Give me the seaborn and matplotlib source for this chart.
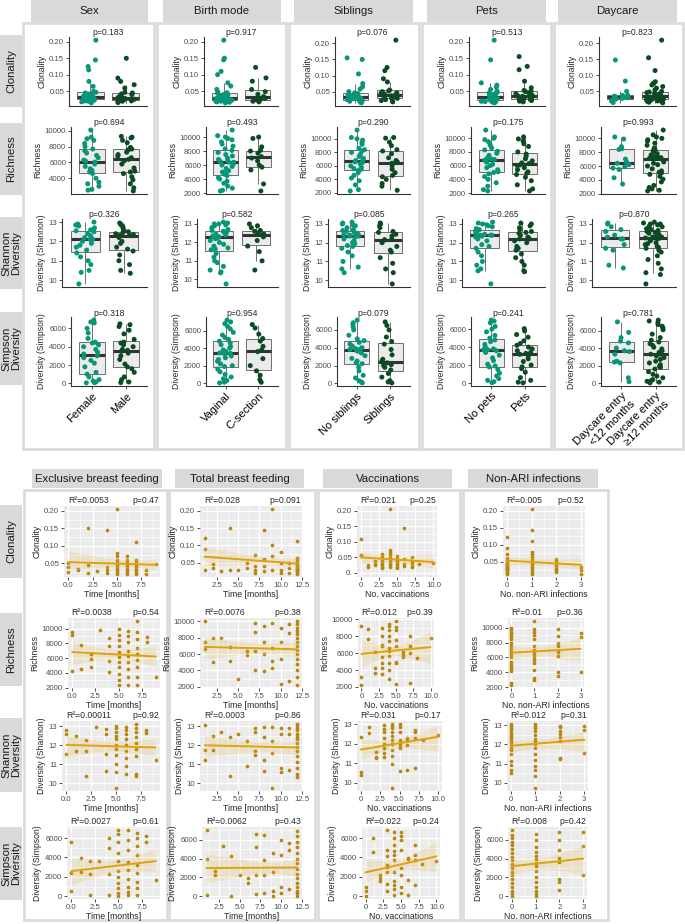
import numpy as np
import pandas as pd
import seaborn as sns
import matplotlib.pyplot as plt
from matplotlib.patches import Rectangle
from matplotlib.ticker import MultipleLocator, AutoMinorLocator, FuncFormatter

sns.set_style("white")
plt.rcParams["font.family"] = ["Liberation Sans", "DejaVu Sans"]

##=================== TOP: group comparisons ===================##
factors = ["Sex", "Birth mode", "Siblings", "Pets", "Daycare"]
group_labels = [["Female", "Male"], ["Vaginal", "C-section"], ["No siblings", "Siblings"],
                ["No pets", "Pets"], ["Daycare entry\n<12 months", "Daycare entry\n≥12 months"]]
row_strips = ["Clonality", "Richness", "Shannon\nDiversity", "Simpson\nDiversity"]
row_ylabels = ["Clonality", "Richness", "Diversity (Shannon)", "Diversity (Simpson)"]

# p-values per factor (rows: clonality, richness, shannon, simpson)
p_sex = ["0.183", "0.694", "0.326", "0.318"]
p_birth = ["0.917", "0.493", "0.582", "0.954"]
p_siblings = ["0.076", "0.290", "0.085", "0.079"]
p_pets = ["0.513", "0.175", "0.265", "0.241"]
p_daycare = ["0.823", "0.993", "0.870", "0.781"]

# clonality
clonality_sex = ([0.205, 0.145, 0.125, 0.115, 0.08, 0.065, 0.05, 0.047, 0.045, 0.042, 0.04, 0.037, 0.035,
                  0.033, 0.031, 0.03, 0.029, 0.028, 0.026, 0.025, 0.024, 0.023, 0.021, 0.02, 0.018, 0.015],
                 [0.15, 0.09, 0.08, 0.07, 0.06, 0.047, 0.045, 0.042, 0.04, 0.036, 0.033, 0.031, 0.03, 0.029,
                  0.028, 0.027, 0.026, 0.025, 0.024, 0.022, 0.021, 0.02, 0.018, 0.016])
clonality_birth = ([0.205, 0.15, 0.145, 0.11, 0.1, 0.075, 0.065, 0.055, 0.047, 0.045, 0.043, 0.04, 0.038, 0.036,
                    0.034, 0.032, 0.031, 0.03, 0.03, 0.029, 0.028, 0.027, 0.026, 0.025, 0.024, 0.023, 0.022,
                    0.022, 0.021, 0.02, 0.019, 0.018, 0.017, 0.016, 0.015, 0.014],
                   [0.122, 0.09, 0.08, 0.055, 0.048, 0.04, 0.033, 0.03, 0.028, 0.025, 0.023, 0.021, 0.019, 0.017])
clonality_siblings = ([0.155, 0.15, 0.105, 0.075, 0.065, 0.058, 0.05, 0.046, 0.044, 0.042, 0.04, 0.038, 0.036,
                       0.035, 0.034, 0.032, 0.031, 0.03, 0.029, 0.028, 0.026, 0.025, 0.023, 0.022, 0.022, 0.021,
                       0.02, 0.018, 0.017, 0.015],
                      [0.21, 0.125, 0.115, 0.09, 0.08, 0.055, 0.052, 0.05, 0.046, 0.045, 0.042, 0.04, 0.038,
                       0.037, 0.035, 0.033, 0.031, 0.029, 0.027, 0.025, 0.022, 0.018])
clonality_pets = ([0.205, 0.145, 0.075, 0.068, 0.062, 0.055, 0.05, 0.047, 0.045, 0.042, 0.04, 0.037, 0.034,
                   0.032, 0.031, 0.03, 0.029, 0.028, 0.027, 0.026, 0.025, 0.024, 0.022, 0.021, 0.02, 0.019,
                   0.018, 0.017, 0.016, 0.014],
                  [0.155, 0.125, 0.115, 0.08, 0.06, 0.052, 0.05, 0.048, 0.045, 0.042, 0.04, 0.037, 0.035, 0.034,
                   0.032, 0.03, 0.028, 0.026, 0.025, 0.024, 0.023, 0.021, 0.019, 0.017])
clonality_daycare = ([0.148, 0.082, 0.05, 0.038, 0.037, 0.035, 0.033, 0.031, 0.03, 0.028, 0.026, 0.025, 0.02, 0.015],
                     [0.21, 0.155, 0.115, 0.08, 0.075, 0.07, 0.065, 0.06, 0.055, 0.05, 0.048, 0.046, 0.044,
                      0.042, 0.04, 0.039, 0.037, 0.036, 0.035, 0.034, 0.033, 0.032, 0.031, 0.03, 0.029, 0.028,
                      0.027, 0.026, 0.025, 0.024, 0.023, 0.022, 0.021, 0.02, 0.019, 0.018, 0.016, 0.014])

# richness
richness_sex = ([10100, 9200, 9000, 8800, 8400, 8000, 7700, 7500, 7200, 6900, 6600, 6300, 6150, 6050, 5800,
                 5500, 5200, 5000, 4800, 4600, 4000, 3500, 3300, 3000, 2600, 2500],
                [9300, 9200, 9100, 8800, 8500, 7900, 7700, 7600, 7300, 7000, 6800, 6600, 6400, 6200, 5800,
                 5300, 4900, 4800, 4600, 4200, 3800, 3300, 2800, 2400])
richness_birth = ([11000, 10200, 10000, 9800, 9600, 9300, 9000, 8700, 8300, 8100, 7800, 7500, 7300, 7000,
                   6800, 6600, 6500, 6400, 6400, 6200, 6000, 5800, 5500, 5200, 5000, 4900, 4700, 4500, 4200,
                   4000, 3700, 3400, 3000, 2700, 2400, 2300],
                  [10000, 9800, 8600, 8100, 8000, 7700, 7200, 7000, 6600, 6000, 5700, 5300, 3300, 2300])
richness_siblings = ([11300, 10200, 10000, 9800, 9500, 9200, 8600, 8400, 8200, 8000, 7700, 7400, 7100, 6900,
                      6800, 6600, 6500, 6300, 6000, 5800, 5600, 5500, 5300, 5000, 4600, 4200, 3800, 3200,
                      2500, 2300],
                     [10200, 10100, 9500, 9000, 8400, 8200, 7800, 7200, 6800, 6600, 6400, 6000, 5500, 5000,
                      4600, 4400, 4000, 3400, 3000, 2400])
richness_pets = ([11200, 10200, 10000, 9800, 9500, 9000, 8600, 8300, 8100, 7800, 7500, 7300, 7100, 7000, 6900,
                  6800, 6500, 6200, 6000, 5700, 5400, 5100, 5000, 4800, 4400, 4000, 3500, 3000, 2500, 2300],
                 [10200, 9900, 9600, 9200, 8800, 8000, 7700, 7400, 7000, 6700, 6400, 6300, 6100, 6000, 5700,
                  5400, 5100, 4900, 4700, 4300, 3800, 3200, 2600, 2300])
richness_daycare = ([10200, 9900, 8800, 8500, 8400, 7000, 6600, 6400, 6200, 5900, 5700, 5500, 4300, 3400],
                    [11200, 10500, 10200, 10000, 9800, 9600, 9300, 9000, 8600, 8400, 8200, 8000, 7800, 7600,
                     7400, 7300, 7200, 7100, 7100, 7000, 6800, 6600, 6400, 6200, 6000, 5600, 5300, 5100,
                     5000, 4800, 4500, 4100, 3700, 3200, 2900, 2700, 2500, 2400])

# shannon diversity
shannon_sex = ([13.0, 12.9, 12.85, 12.8, 12.7, 12.6, 12.55, 12.5, 12.4, 12.3, 12.2, 12.15, 12.1, 12.1, 12.0,
                11.9, 11.8, 11.7, 11.55, 11.4, 11.2, 11.0, 10.8, 10.5, 10.4, 9.8],
               [12.95, 12.9, 12.85, 12.75, 12.65, 12.55, 12.5, 12.45, 12.4, 12.35, 12.3, 12.3, 12.3, 12.2,
                12.0, 11.9, 11.7, 11.6, 11.5, 11.3, 11.0, 10.8, 10.5, 10.35])
shannon_birth = ([13.1, 13.05, 13.0, 13.0, 12.95, 12.9, 12.8, 12.7, 12.65, 12.6, 12.55, 12.5, 12.45, 12.4,
                  12.35, 12.3, 12.3, 12.3, 12.25, 12.2, 12.1, 12.0, 11.9, 11.8, 11.7, 11.65, 11.6, 11.4, 11.2,
                  11.0, 10.9, 10.7, 10.5, 10.4, 10.35, 9.75],
                 [13.0, 12.9, 12.8, 12.65, 12.6, 12.5, 12.45, 12.4, 12.3, 12.1, 11.8, 11.5, 11.0, 10.5])
shannon_siblings = ([13.1, 13.05, 13.0, 12.95, 12.9, 12.8, 12.7, 12.65, 12.6, 12.55, 12.5, 12.45, 12.4, 12.4,
                     12.35, 12.35, 12.3, 12.2, 12.1, 12.0, 11.95, 11.85, 11.8, 11.7, 11.5, 11.3, 11.0, 10.7,
                     10.6, 10.4],
                    [13.05, 13.0, 12.9, 12.8, 12.6, 12.55, 12.45, 12.35, 12.2, 12.15, 12.15, 12.0, 11.8, 11.6,
                     11.5, 11.2, 10.9, 10.6, 10.4, 9.8])
shannon_pets = ([13.1, 13.05, 13.0, 12.95, 12.9, 12.85, 12.75, 12.7, 12.65, 12.6, 12.55, 12.5, 12.45, 12.4,
                 12.4, 12.4, 12.35, 12.3, 12.2, 12.1, 11.9, 11.8, 11.7, 11.5, 11.3, 11.0, 10.8, 10.6, 10.5, 9.8],
                [13.05, 13.0, 12.9, 12.8, 12.7, 12.6, 12.55, 12.5, 12.4, 12.3, 12.25, 12.2, 12.2, 12.1, 12.0,
                 11.8, 11.7, 11.6, 11.4, 11.2, 11.0, 10.8, 10.5, 10.45])
shannon_daycare = ([13.05, 13.0, 12.85, 12.7, 12.6, 12.4, 12.3, 12.2, 12.2, 11.9, 11.7, 11.6, 10.8, 10.65],
                   [13.1, 13.05, 13.0, 13.0, 12.95, 12.9, 12.85, 12.75, 12.7, 12.65, 12.6, 12.55, 12.5, 12.45,
                    12.4, 12.35, 12.3, 12.3, 12.25, 12.25, 12.2, 12.15, 12.1, 12.0, 11.95, 11.9, 11.8, 11.75,
                    11.7, 11.6, 11.5, 11.3, 11.1, 10.9, 10.6, 10.4, 10.3, 9.8])

# simpson diversity
simpson_sex = ([6900, 6700, 6600, 6000, 5500, 4900, 4500, 4400, 4200, 4000, 3700, 3400, 3200, 3000, 2800, 2500,
                2200, 1800, 1200, 1000, 700, 400, 250, 150, 80, 50],
               [6500, 6400, 6200, 5800, 5400, 4800, 4500, 4400, 4200, 4000, 3700, 3600, 3500, 3300, 3000, 2600,
                2100, 1800, 1600, 1200, 700, 400, 150, 80])
simpson_birth = ([7200, 7000, 6800, 6500, 6200, 5800, 5500, 5200, 5000, 4800, 4600, 4400, 4200, 4000, 3800,
                  3600, 3500, 3450, 3400, 3300, 3100, 2900, 2700, 2500, 2200, 2000, 1900, 1600, 1300, 1000, 700,
                  500, 300, 200, 100, 30],
                 [6700, 6300, 5600, 5100, 4800, 4200, 3800, 3600, 2800, 2000, 1400, 900, 400, 100])
simpson_siblings = ([7100, 6800, 6600, 6300, 6000, 5400, 5000, 4800, 4600, 4400, 4200, 4000, 3900, 3800, 3800,
                     3700, 3600, 3400, 3100, 2800, 2500, 2300, 2200, 1800, 1400, 900, 600, 300, 150, 50],
                    [6900, 6500, 6000, 5200, 4700, 4400, 3800, 3200, 2700, 2500, 2300, 2100, 2000, 1800, 1500,
                     1100, 700, 300, 150, 50])
simpson_pets = ([7000, 6900, 6700, 6300, 6000, 5700, 5300, 5000, 4800, 4600, 4300, 4000, 3800, 3700, 3700,
                 3600, 3400, 3100, 2800, 2500, 2100, 1900, 1800, 1500, 1100, 800, 500, 300, 150, 50],
                [6050, 5800, 5400, 5100, 4700, 4400, 4200, 4000, 3800, 3600, 3400, 3300, 3200, 3000, 2700, 2400,
                 2000, 1800, 1600, 1200, 600, 300, 100, 20])
simpson_daycare = ([7000, 5800, 5200, 4800, 4600, 4000, 3700, 3600, 3300, 2500, 2400, 2300, 600, 150],
                   [7200, 7100, 6900, 6700, 6500, 6300, 6100, 5600, 5200, 4900, 4700, 4500, 4300, 4100, 3900,
                    3700, 3500, 3400, 3300, 3300, 3100, 2900, 2700, 2500, 2300, 2100, 1900, 1800, 1600, 1300,
                    1000, 800, 600, 400, 300, 200, 100, 20])

##=================== BOTTOM: regressions ===================##
covariates = ["Exclusive breast feeding", "Total breast feeding", "Vaccinations", "Non-ARI infections"]
covariate_xlabels = ["Time [months]", "Time [months]", "No. vaccinations", "No. non-ARI infections"]

excl_bf_months = [0, 0, 0, 1, 1, 2, 2, 2, 3, 4, 4, 4, 4, 5, 5, 5, 5, 5, 5, 5, 5, 5, 5, 5,
                  6, 6, 6, 6, 6, 6, 6, 6, 6, 7, 7, 7, 7, 7, 7, 7, 7, 7, 8, 8, 9]
total_bf_months = [1, 1, 1, 2, 2, 3, 4, 4, 5, 6, 6, 7, 7, 7, 7, 8, 8, 8, 8, 9, 9, 9, 9, 10, 10, 10, 10,
                   11, 11, 11, 12, 12, 12, 12, 12, 12, 12, 12, 12, 12, 12, 12, 12, 12, 12]
n_vaccinations = [0, 0, 0, 1, 1, 2, 2, 2, 3, 3, 3, 3, 3, 3, 3, 3, 4, 4, 4, 4, 4, 4, 4, 4, 4, 4, 4,
                  5, 5, 5, 5, 5, 5, 5, 5, 6, 6, 6, 6, 7, 7, 7, 7, 8, 10]
n_infections = [0] * 19 + [1] * 15 + [2] * 8 + [3] * 3

clonality_excl = [0.05, 0.04, 0.025, 0.035, 0.03, 0.15, 0.045, 0.022, 0.028, 0.145, 0.04, 0.03, 0.022,
                  0.205, 0.08, 0.07, 0.06, 0.05, 0.045, 0.04, 0.035, 0.03, 0.025, 0.02,
                  0.07, 0.06, 0.05, 0.045, 0.04, 0.035, 0.03, 0.025, 0.02,
                  0.112, 0.06, 0.05, 0.045, 0.04, 0.035, 0.03, 0.025, 0.02, 0.03, 0.02, 0.048]
richness_excl = [9600, 9100, 4200, 7800, 4600, 6500, 5900, 4800, 9800, 8700, 7600, 5600, 4100,
                 10000, 9200, 8500, 7600, 6800, 6200, 5500, 4800, 3800, 3000, 2400,
                 9700, 9000, 8200, 7000, 6300, 5500, 4500, 3500, 2400,
                 11000, 9600, 8600, 7400, 6600, 5700, 4800, 3400, 2400, 8800, 8200, 3500]
shannon_excl = [12.8, 12.6, 11.55, 12.5, 11.7, 12.25, 11.7, 10.35, 12.95, 12.85, 12.6, 11.55, 10.65,
                13.0, 12.9, 12.7, 12.5, 12.3, 12.0, 11.8, 11.5, 11.0, 10.6, 9.75,
                12.95, 12.8, 12.6, 12.3, 12.0, 11.7, 11.3, 10.9, 10.5,
                13.1, 12.9, 12.7, 12.4, 12.1, 11.8, 11.4, 10.5, 10.35, 12.8, 12.65, 11.2]
simpson_excl = [5600, 2400, 500, 3900, 2500, 3600, 2300, 80, 3600, 6000, 5000, 2300, 100,
                6800, 6400, 5600, 4500, 3600, 2600, 2000, 1400, 800, 300, 50,
                6800, 5800, 4800, 3500, 2700, 1800, 1000, 400, 100,
                6500, 6000, 5200, 4200, 3200, 2400, 1500, 800, 100, 6200, 5600, 1700]

clonality_total = [0.123, 0.09, 0.03, 0.045, 0.035, 0.025, 0.15, 0.03, 0.03, 0.05, 0.035,
                   0.072, 0.04, 0.03, 0.02, 0.145, 0.06, 0.04, 0.025, 0.205, 0.1, 0.07, 0.03,
                   0.08, 0.05, 0.03, 0.02, 0.05, 0.035, 0.02,
                   0.112, 0.065, 0.06, 0.055, 0.05, 0.045, 0.04, 0.038, 0.035, 0.032, 0.03, 0.028, 0.025,
                   0.022, 0.018]
richness_total = [10000, 7500, 6600, 7900, 5000, 8000, 6800, 5100, 2900, 6400, 5900,
                  9800, 8700, 6400, 4100, 9400, 7500, 6000, 3900, 9800, 6700, 5200, 4300,
                  9200, 7500, 5400, 2400, 9700, 8600, 2700,
                  10000, 9600, 9200, 8800, 8400, 8000, 7500, 7000, 6500, 6000, 5400, 4800, 4000, 3200, 2250]
shannon_total = [13.05, 11.75, 11.2, 12.5, 11.75, 12.7, 12.4, 10.35, 12.6, 12.2, 10.9,
                 12.9, 12.7, 11.7, 11.5, 12.95, 12.45, 11.2, 10.65, 12.95, 12.2, 11.6, 9.75,
                 12.9, 12.6, 10.8, 10.6, 12.9, 12.6, 10.7,
                 13.1, 13.0, 12.9, 12.8, 12.6, 12.45, 12.3, 12.1, 11.9, 11.7, 11.4, 11.1, 10.8, 10.5, 10.3]
simpson_total = [7000, 3900, 100, 2700, 2200, 5300, 4300, 50, 2300, 1900, 1400,
                 6600, 5200, 2300, 200, 6500, 3800, 2200, 300, 4600, 2600, 600, 50,
                 6000, 4400, 1000, 300, 5600, 4900, 800,
                 6900, 6400, 5800, 5200, 4600, 4000, 3500, 2900, 2400, 1900, 1400, 1000, 600, 300, 50]

clonality_vacc = [0.11, 0.058, 0.055, 0.025, 0.018, 0.04, 0.03, 0.025,
                  0.062, 0.05, 0.04, 0.035, 0.03, 0.025, 0.02, 0.015,
                  0.205, 0.075, 0.068, 0.06, 0.05, 0.045, 0.04, 0.035, 0.03, 0.025, 0.018,
                  0.055, 0.045, 0.04, 0.035, 0.03, 0.025, 0.02, 0.015,
                  0.145, 0.045, 0.03, 0.022, 0.05, 0.035, 0.025, 0.02, 0.03, 0.033]
richness_vacc = [9200, 3200, 2250, 8900, 7700, 6200, 4300, 3600,
                 9000, 8100, 7000, 6800, 5600, 4800, 4200, 3500,
                 9500, 9200, 8700, 8100, 7400, 6600, 6300, 5700, 4800, 4000, 2900,
                 9800, 9100, 8700, 7600, 6900, 5000, 4800, 2300,
                 6200, 5900, 5700, 5500, 8000, 6800, 6000, 2500, 5400, 7800]
shannon_vacc = [12.35, 10.55, 10.4, 12.85, 12.55, 11.6, 11.3, 11.25,
                12.95, 12.75, 12.6, 12.3, 12.0, 11.8, 11.55, 11.3,
                13.0, 12.9, 12.8, 12.6, 12.4, 12.2, 12.0, 11.7, 11.4, 10.95, 9.75,
                13.0, 12.85, 12.6, 12.2, 12.0, 11.85, 11.8, 10.6,
                12.3, 12.2, 11.95, 10.65, 12.7, 12.6, 12.3, 10.75, 12.2, 12.45]
simpson_vacc = [1000, 500, 50, 6000, 4600, 2200, 1900, 1600,
                6800, 4800, 4100, 3200, 3000, 2500, 1300, 500,
                6600, 6000, 5300, 4700, 4200, 3700, 2500, 1600, 1200, 700, 100,
                6600, 6200, 5800, 4800, 2900, 2200, 1000, 300,
                3900, 3800, 1700, 80, 5300, 4300, 3700, 1200, 3300, 3600]

clonality_inf = [0.123, 0.09, 0.072, 0.06, 0.055, 0.05, 0.048, 0.045, 0.042, 0.04, 0.037, 0.035, 0.032,
                 0.03, 0.028, 0.025, 0.022, 0.018, 0.015,
                 0.205, 0.145, 0.112, 0.08, 0.072, 0.065, 0.058, 0.05, 0.045, 0.04, 0.035, 0.03, 0.025,
                 0.02, 0.015,
                 0.058, 0.052, 0.048, 0.042, 0.035, 0.03, 0.025, 0.02, 0.035, 0.025, 0.015]
richness_inf = [10000, 9800, 9500, 9200, 8900, 8500, 8000, 7600, 7200, 6800, 6500, 6000, 5400, 5000, 4700,
                4400, 4200, 2500, 2300,
                10900, 9800, 9500, 9000, 8500, 7500, 7000, 6700, 6300, 6000, 5700, 5300, 4300, 3200, 2900,
                9900, 8900, 8000, 7500, 6800, 6200, 4000, 3500, 9300, 8800, 4000]
shannon_inf = [13.05, 13.0, 12.95, 12.85, 12.75, 12.6, 12.5, 12.4, 12.3, 12.2, 12.05, 11.95, 11.8, 11.7,
               11.5, 11.15, 10.95, 10.65, 10.5,
               13.05, 12.95, 12.85, 12.7, 12.5, 12.3, 12.2, 12.0, 11.8, 11.5, 11.2, 10.9, 10.65, 10.35, 9.75,
               12.95, 12.9, 12.7, 12.55, 12.4, 12.2, 11.3, 11.25, 12.95, 12.75, 11.55]
simpson_inf = [7000, 6500, 6200, 5800, 5400, 5000, 4600, 4200, 3800, 3400, 3000, 2600, 2200, 1800, 1400,
               1000, 600, 300, 50,
               6600, 6000, 5200, 4700, 4300, 3900, 3500, 3200, 2700, 2000, 1500, 1000, 500, 200, 50,
               6800, 6000, 4900, 4100, 3600, 1800, 1500, 700, 6800, 5300, 2300]

r2_excl = ["0.0053", "0.0038", "0.00011", "0.0027"]
pr_excl = ["0.47", "0.54", "0.92", "0.61"]
r2_total = ["0.028", "0.0076", "0.0003", "0.0062"]
pr_total = ["0.091", "0.38", "0.86", "0.43"]
r2_vacc = ["0.021", "0.012", "0.031", "0.022"]
pr_vacc = ["0.25", "0.39", "0.17", "0.24"]
r2_inf = ["0.005", "0.01", "0.012", "0.008"]
pr_inf = ["0.52", "0.36", "0.31", "0.42"]

##=================== STYLE ===================##
col_a, col_b = "#079678", "#0B4A23"
pt_col, line_col = "#B8860B", "#DDA20E"
strip_col, frame_col = "#D9D9D9", "#DCDCDC"
tick_txt = "#4D4D4D"

W, H = 685, 924
fig = plt.figure(figsize=(W / 100, H / 100), dpi=100)


def rect_px(x0, y0, x1, y1, face, edge="none", lw=0, z=-3):
    fig.add_artist(Rectangle((x0 / W, 1 - y1 / H), (x1 - x0) / W, (y1 - y0) / H,
                             transform=fig.transFigure, facecolor=face, edgecolor=edge,
                             linewidth=lw, zorder=z))


def strip_px(x0, y0, x1, y1, label, vertical=False):
    rect_px(x0, y0, x1, y1, strip_col, z=-2)
    fig.text((x0 + x1) / 2 / W, 1 - (y0 + y1) / 2 / H, label, rotation=90 if vertical else 0,
             ha="center", va="center", fontsize=8.2, color="#1A1A1A", linespacing=1.0)


def axes_px(x0, y0, x1, y1):
    return fig.add_axes([x0 / W, 1 - y1 / H, (x1 - x0) / W, (y1 - y0) / H])


fmt2 = FuncFormatter(lambda v, p: f"{v:.2f}")
fmt0 = FuncFormatter(lambda v, p: f"{v:.0f}")
fmt1 = FuncFormatter(lambda v, p: f"{v:.1f}")
fmt_vx = FuncFormatter(lambda v, p: "0" if abs(v) < 1e-9 else f"{v:.1f}")
fmt_vy = FuncFormatter(lambda v, p: "0." if abs(v) < 1e-9 else f"{v:.2f}")
row_locs = [0.05, 2000, 1, 2000]
row_fmts = [fmt2, fmt0, fmt0, fmt0]

##=================== DRAW TOP BLOCK ===================##
top_values = [
    [clonality_sex, clonality_birth, clonality_siblings, clonality_pets, clonality_daycare],
    [richness_sex, richness_birth, richness_siblings, richness_pets, richness_daycare],
    [shannon_sex, shannon_birth, shannon_siblings, shannon_pets, shannon_daycare],
    [simpson_sex, simpson_birth, simpson_siblings, simpson_pets, simpson_daycare],
]
top_p = [p_sex, p_birth, p_siblings, p_pets, p_daycare]

top_panels = [(23, 154), (157, 286), (289, 419), (422, 551), (554, 683)]
top_strips = [(31, 148), (163, 281), (294, 413), (427, 546), (558, 677)]
top_left = [69, 204, 335, 469, 599]
top_right = [147, 278, 410, 545, 676]
top_shift = [0, 2, -7, 2]
top_rows = [(37, 106), (127, 194), (219, 287), (317, 386)]
top_rowstrips = [(35, 107), (123, 195), (217, 289), (312, 385)]

for ci in range(5):
    rect_px(top_panels[ci][0], 23, top_panels[ci][1], 449, "white", frame_col, 2)
    strip_px(top_strips[ci][0], 0, top_strips[ci][1], 22, factors[ci])
for ri in range(4):
    strip_px(0, top_rowstrips[ri][0], 22, top_rowstrips[ri][1], row_strips[ri], vertical=True)

for ci in range(5):
    labels = group_labels[ci]
    for ri in range(4):
        a, b = top_values[ri][ci]
        df = pd.DataFrame({"group": [labels[0]] * len(a) + [labels[1]] * len(b), "value": a + b})
        ax = axes_px(top_left[ci] + top_shift[ri], top_rows[ri][0], top_right[ci], top_rows[ri][1])
        sns.boxplot(data=df, x="group", y="value", order=labels, color="#EBEBEB", width=0.75,
                    showfliers=False, showcaps=False, linecolor="#6E6E6E", linewidth=0.7,
                    medianprops={"color": "#333333", "linewidth": 2.2}, ax=ax)
        sns.stripplot(data=df, x="group", y="value", order=labels, hue="group", hue_order=labels,
                      palette=[col_a, col_b], jitter=0.25, size=3.6, linewidth=0, legend=False,
                      ax=ax)
        ax.set_xlim(-0.6, 1.6)
        ax.yaxis.set_major_locator(MultipleLocator(row_locs[ri]))
        ax.yaxis.set_major_formatter(row_fmts[ri])
        ax.set_ylabel(row_ylabels[ri], fontsize=6.2, labelpad=2)
        ax.set_xlabel("")
        ax.set_title("p=" + top_p[ci][ri], fontsize=6.2, pad=1)
        for s in ["top", "right"]:
            ax.spines[s].set_visible(False)
        for s in ["left", "bottom"]:
            ax.spines[s].set_color("#333333")
            ax.spines[s].set_linewidth(0.8)
        ax.tick_params(axis="y", length=2.5, width=0.6, color="#333333", labelsize=5.6,
                       labelcolor=tick_txt, pad=1, left=True)
        if ri == 3:
            ax.tick_params(axis="x", length=2.5, width=0.6, color="#333333", pad=1, bottom=True)
            ax.set_xticks([0, 1])
            ax.set_xticklabels(labels, rotation=45, ha="right", rotation_mode="anchor",
                               fontsize=8, color="black")
        else:
            ax.tick_params(axis="x", bottom=False, labelbottom=False)
        ax.set_facecolor("white")

##=================== DRAW BOTTOM BLOCK ===================##
bottom_x = [excl_bf_months, total_bf_months, n_vaccinations, n_infections]
bottom_y = [
    [clonality_excl, clonality_total, clonality_vacc, clonality_inf],
    [richness_excl, richness_total, richness_vacc, richness_inf],
    [shannon_excl, shannon_total, shannon_vacc, shannon_inf],
    [simpson_excl, simpson_total, simpson_vacc, simpson_inf],
]
bottom_r2 = [r2_excl, r2_total, r2_vacc, r2_inf]
bottom_p = [pr_excl, pr_total, pr_vacc, pr_inf]
x_locs = [2.5, 2.5, 2.5, 1]
x_fmts = [fmt1, fmt1, fmt_vx, fmt0]

bot_panels = [(24, 167), (169, 315), (318, 460), (463, 608)]
bot_strips = [(32, 162), (175, 304), (323, 452), (468, 598)]
bot_rows = [(506, 577), (618, 688), (721, 791), (827, 899)]
bot_rowstrips = [(505, 578), (613, 686), (718, 792), (827, 900)]
bot_x = [
    [(64, 160), (68, 160), (62, 160), (67, 160)],
    [(200, 302), (200, 302), (200, 302), (202, 302)],
    [(357, 437), (358, 434), (357, 442), (362, 440)],
    [(503, 585), (508, 584), (507, 588), (508, 587)],
]

for ci in range(4):
    rect_px(bot_panels[ci][0], 490, bot_panels[ci][1], 920, "white", frame_col, 2)
    strip_px(bot_strips[ci][0], 469, bot_strips[ci][1], 488, covariates[ci])
for ri in range(4):
    strip_px(0, bot_rowstrips[ri][0], 22, bot_rowstrips[ri][1], row_strips[ri], vertical=True)

for ci in range(4):
    for ri in range(4):
        x0, x1 = bot_x[ci][ri]
        ax = axes_px(x0, bot_rows[ri][0], x1, bot_rows[ri][1])
        df = pd.DataFrame({"x": bottom_x[ci], "y": bottom_y[ri][ci]})
        sns.regplot(data=df, x="x", y="y", ax=ax, ci=95, seed=7, color=line_col,
                    scatter_kws={"color": pt_col, "s": 7, "linewidths": 0, "alpha": 1},
                    line_kws={"color": line_col, "lw": 1.4})
        ax.set_facecolor("#EBEBEB")
        for s in ax.spines.values():
            s.set_visible(False)
        ax.xaxis.set_major_locator(MultipleLocator(x_locs[ci]))
        ax.xaxis.set_major_formatter(x_fmts[ci])
        ax.yaxis.set_major_locator(MultipleLocator(row_locs[ri]))
        ax.yaxis.set_major_formatter(fmt_vy if (ci == 2 and ri == 0) else row_fmts[ri])
        if ci == 2 and ri == 0:
            ax.set_ylim(-0.013, 0.216)
        ax.xaxis.set_minor_locator(AutoMinorLocator(2))
        ax.yaxis.set_minor_locator(AutoMinorLocator(2))
        ax.grid(True, which="major", color="white", linewidth=0.9)
        ax.grid(True, which="minor", color="white", linewidth=0.45)
        ax.set_axisbelow(True)
        ax.tick_params(which="major", length=2.5, width=0.6, color="#333333", labelsize=5.6,
                       labelcolor=tick_txt, pad=1, bottom=True, left=True)
        ax.tick_params(which="minor", length=0)
        ax.set_xlabel(covariate_xlabels[ci], fontsize=6.3, labelpad=0.5)
        ax.set_ylabel(row_ylabels[ri], fontsize=6.2, labelpad=2)
        ax.text(0.04, 1.01, "R²=" + bottom_r2[ci][ri], transform=ax.transAxes, ha="left",
                va="bottom", fontsize=6.2)
        ax.text(0.99, 1.01, "p=" + bottom_p[ci][ri], transform=ax.transAxes, ha="right",
                va="bottom", fontsize=6.2)

fig.savefig("out.png", dpi=100)
